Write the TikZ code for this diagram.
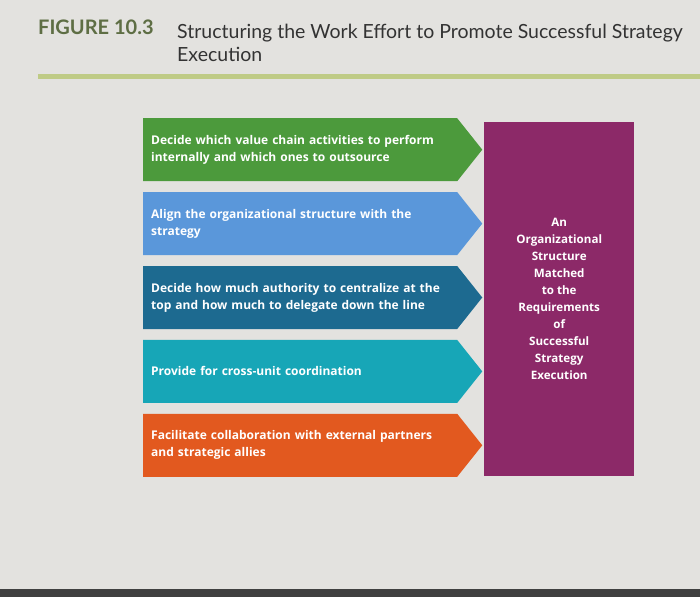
\documentclass[tikz,border=0pt]{standalone}
\usepackage{fontspec}
\setmainfont{Open Sans}
\newfontfamily\titlefont{Lato}
\usetikzlibrary{positioning,shapes.symbols}

\definecolor{paper}{HTML}{E3E2DF}
\definecolor{rulegreen}{HTML}{BFCB86}
\definecolor{figgreen}{HTML}{5E6E44}
\definecolor{stepgreen}{HTML}{4C9A3C}
\definecolor{stepblue}{HTML}{5A97DA}
\definecolor{stepnavy}{HTML}{1D6A90}
\definecolor{stepteal}{HTML}{17A6B7}
\definecolor{steporange}{HTML}{E2591F}
\definecolor{outpurple}{HTML}{8C2968}

\tikzset{
	stepbox/.style = {signal, signal to=east, signal pointer angle=103, draw=none,
		minimum height=63pt, inner xsep=8pt, text width=298pt, align=left,
		text=white, font=\bfseries\fontsize{12}{17}\selectfont},
	outbox/.style = {rectangle, fill=outpurple, minimum width=150pt, minimum height=354pt,
		text=white, align=center, font=\bfseries\fontsize{11.6}{17}\selectfont}
}

\begin{document}
\begin{tikzpicture}[x=1pt, y=-1pt, node distance=10.5pt]

	\fill[paper] (0,0) rectangle (700,597);
	\useasboundingbox (0,0) rectangle (700,597);
	\fill[black!75] (0,589) rectangle (700,597);

	\node[anchor=base west, inner sep=0pt, text=figgreen, font=\titlefont\bfseries\fontsize{20}{24}\selectfont] (fig) at (38,34) {FIGURE 10.3};
	\node[anchor=north west, inner sep=0pt, align=left, text=black!80, font=\titlefont\fontsize{19.5}{23}\selectfont] (title) at (177,24) {Structuring the Work Effort to Promote Successful Strategy\\Execution};
	\draw[rulegreen, line width=5pt] (38,76) -- (700,76);

	\node[stepbox, fill=stepgreen, anchor=north west] (sourcing) at (143,118) {Decide which value chain activities to perform\\internally and which ones to outsource};
	\node[stepbox, fill=stepblue, below=of sourcing] (align) {Align the organizational structure with the\\strategy};
	\node[stepbox, fill=stepnavy, below=of align] (authority) {Decide how much authority to centralize at the\\top and how much to delegate down the line};
	\node[stepbox, fill=stepteal, below=of authority] (coord) {Provide for cross-unit coordination};
	\node[stepbox, fill=steporange, below=of coord] (allies) {Facilitate collaboration with external partners\\and strategic allies};

	\node[outbox, anchor=north west] (outcome) at (484,122) {An\\Organizational\\Structure\\Matched\\to the\\Requirements\\of\\Successful\\Strategy\\Execution};

\end{tikzpicture}
\end{document}
